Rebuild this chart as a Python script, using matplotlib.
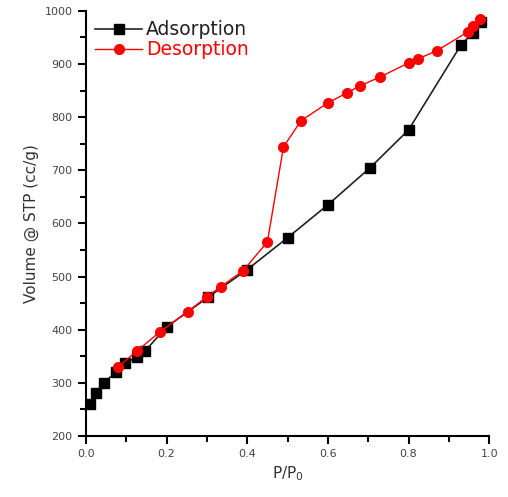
import matplotlib
matplotlib.use("Agg")
import matplotlib.pyplot as plt
from matplotlib.ticker import MultipleLocator

# adsorption branch
ads_x = [0.01, 0.024, 0.045, 0.074, 0.097, 0.126, 0.146, 0.20, 0.303, 0.40, 0.50,
         0.60, 0.705, 0.80, 0.93, 0.96, 0.98]
ads_y = [260, 281, 300, 320, 337, 348, 359, 405, 461, 513, 573,
         635, 705, 776, 936, 959, 980]

# desorption branch
des_x = [0.08, 0.127, 0.184, 0.253, 0.30, 0.335, 0.39, 0.45, 0.49, 0.533, 0.60,
         0.648, 0.68, 0.73, 0.80, 0.824, 0.87, 0.948, 0.96, 0.977]
des_y = [330, 360, 396, 434, 462, 481, 511, 565, 744, 793, 827,
         846, 859, 876, 902, 910, 925, 961, 972, 985]

fig = plt.figure(figsize=(5.08, 4.97), dpi=100)
ax = fig.add_axes([0.169, 0.123, 0.794, 0.855])

ax.plot(ads_x, ads_y, color="#222222", lw=1.2, marker="s", ms=7,
        mfc="black", mec="black", label="Adsorption")
ax.plot(des_x, des_y, color="red", lw=1.0, marker="o", ms=7,
        mfc="red", mec="red", label="Desorption")

ax.set_xlim(0, 1.0)
ax.set_ylim(200, 1000)
ax.xaxis.set_major_locator(MultipleLocator(0.2))
ax.xaxis.set_minor_locator(MultipleLocator(0.1))
ax.yaxis.set_major_locator(MultipleLocator(100))
ax.yaxis.set_minor_locator(MultipleLocator(50))
ax.xaxis.set_major_formatter(matplotlib.ticker.FormatStrFormatter("%.1f"))

for s in ["top", "right"]:
    ax.spines[s].set_visible(False)
for s in ["left", "bottom"]:
    ax.spines[s].set_linewidth(1.5)
ax.tick_params(which="major", direction="out", length=6, width=1.5,
               labelsize=8, labelcolor="#444444")
ax.tick_params(which="minor", direction="out", length=4, width=1.5)

ax.set_xlabel("P/P$_0$", fontsize=11, color="#333333")
ax.set_ylabel("Volume @ STP (cc/g)", fontsize=11, color="#333333")

leg = ax.legend(loc="upper left", frameon=False, fontsize=13.5, handlelength=2.5,
                borderaxespad=0.1, labelspacing=0.05, handletextpad=0.2)
for t, c in zip(leg.get_texts(), ["#222222", "red"]):
    t.set_color(c)

fig.savefig("out.png", dpi=100)
